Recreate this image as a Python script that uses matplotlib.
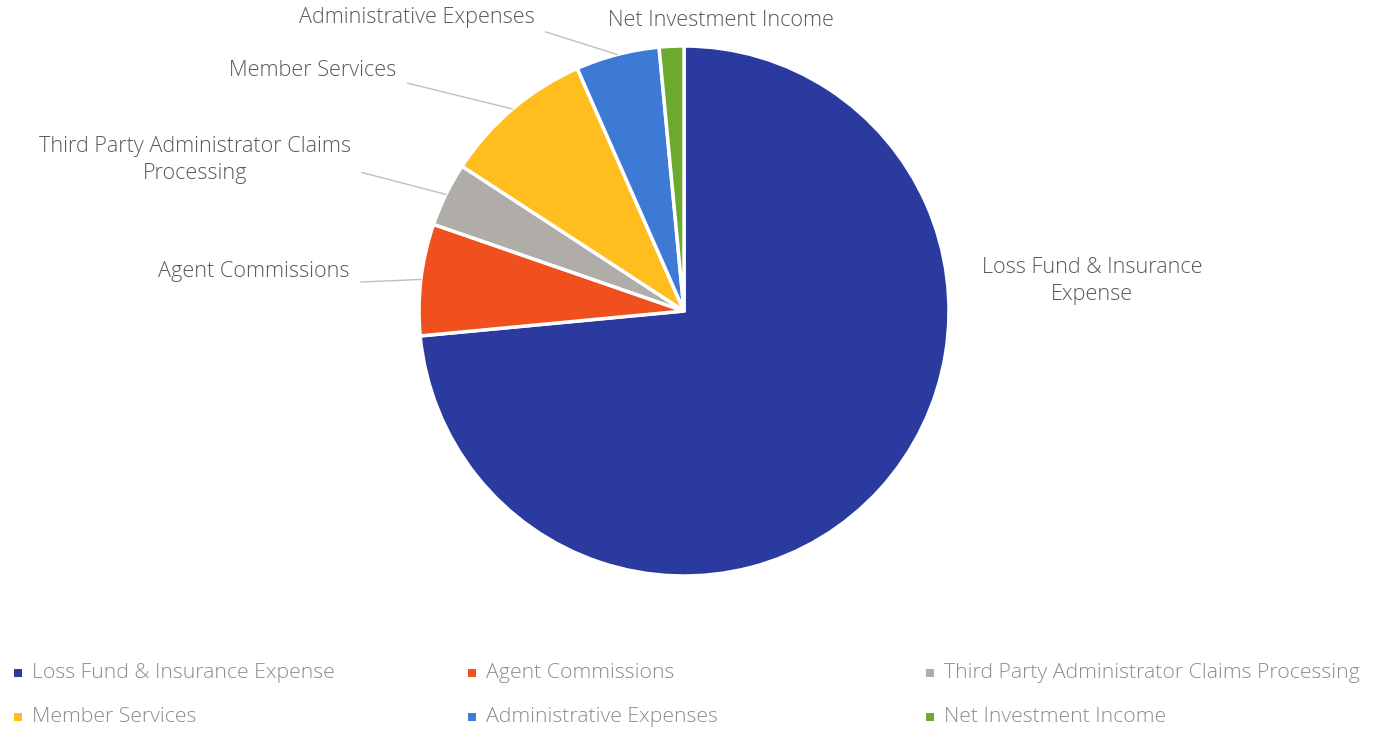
import matplotlib
matplotlib.use("Agg")
import matplotlib.pyplot as plt
import numpy as np

categories = ["Loss Fund & Insurance Expense", "Agent Commissions",
              "Third Party Administrator Claims Processing", "Member Services",
              "Administrative Expenses", "Net Investment Income"]
shares = [73.5, 6.8, 3.9, 9.2, 5.1, 1.5]
colors = ["#2B3A9E", "#F0501E", "#B0ADA8", "#FFBE1E", "#3D7AD6", "#6BAA2E"]
pie_labels = ["Loss Fund & Insurance\nExpense", "Agent Commissions",
              "Third Party Administrator Claims\nProcessing", "Member Services",
              "Administrative Expenses", "Net Investment Income"]

plt.rcParams['font.family'] = ['Open Sans', 'DejaVu Sans']

W, H = 1384, 732
fig = plt.figure(figsize=(W / 100, H / 100), dpi=100)
cx, cy, R = 684, 311, 265
ax = fig.add_axes([(cx - R) / W, (H - cy - R) / H, 2 * R / W, 2 * R / H])
wedges, _ = ax.pie(shares, colors=colors, startangle=90, counterclock=False,
                   radius=1, wedgeprops=dict(edgecolor="white", linewidth=2.5))
ax.set_xlim(-1, 1)
ax.set_ylim(-1, 1)
ax.set_aspect("equal")
ax.axis("off")

# label positions (figure pixels, top-origin) and whether a leader line is drawn
label_pos = [(1092, 281), (254, 272), (195, 160), (313, 70), (417, 18), (721, 20)]
leader = [False, True, True, True, True, False]
relpos = [(0, 0.5), (1.0, 0.0), (1.0, 0.3), (1.0, 0.0), (1.0, 0.0), (0, 0)]
for i, w in enumerate(wedges):
    ang = np.deg2rad((w.theta1 + w.theta2) / 2)
    xy = (np.cos(ang), np.sin(ang))
    tx, ty = label_pos[i]
    kw = {}
    if leader[i]:
        kw["arrowprops"] = dict(arrowstyle="-", color="#BFBFBF", lw=1.0,
                                shrinkA=6, shrinkB=0, relpos=relpos[i])
    ax.annotate(pie_labels[i], xy=xy, xycoords="data",
                xytext=(tx, H - ty), textcoords="figure pixels",
                ha="center", va="center", fontsize=15.6, color="#595959",
                fontweight="light", linespacing=1.4, **kw)

# legend: 2 rows x 3 columns
col_x = [18, 472, 930]
row_y = [673, 717]
for i, name in enumerate(categories):
    c = i % 3
    r = i // 3
    x = col_x[c]
    y = H - row_y[r]
    fig.patches.append(plt.Rectangle((x - 4, y - 4), 8, 8, transform=None,
                                     facecolor=colors[i], edgecolor="none"))
    fig.text((x + 14) / W, y / H, name, ha="left", va="center",
             fontsize=15.3, color="#8C8C8C", fontweight="light")

fig.savefig("out.png", dpi=100, facecolor="white")
